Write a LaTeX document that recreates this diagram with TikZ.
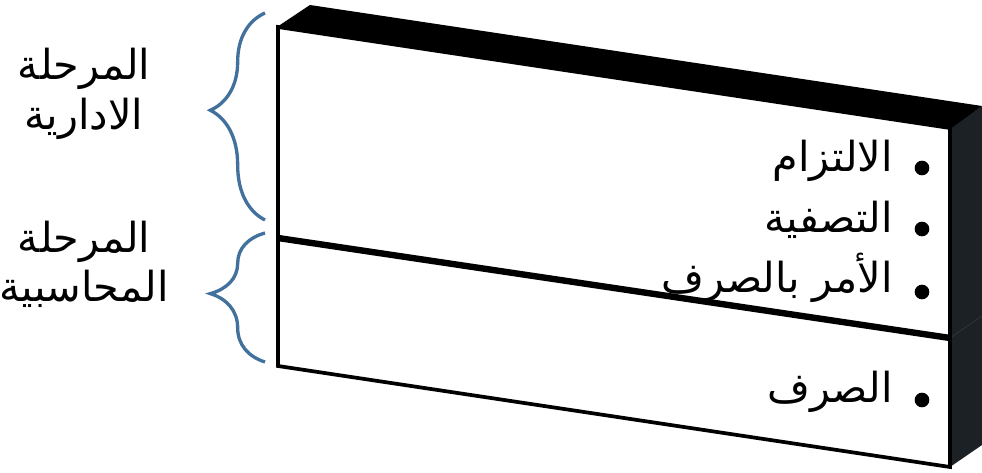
\documentclass[tikz,border=0pt]{standalone}
\usepackage{fontspec}
\newfontfamily\arabicfont[Script=Arabic]{DejaVu Sans}
\TeXXeTstate=1
\usetikzlibrary{decorations.pathreplacing}
\definecolor{bracecol}{HTML}{41719C}
\definecolor{sidecol}{HTML}{1C2125}
\begin{document}
\begin{tikzpicture}[x=0.75pt,y=-0.75pt,line join=miter,
  phase/.style={font=\arabicfont\fontsize{31}{36}\selectfont,anchor=base,inner sep=0pt},
  item/.style={font=\arabicfont\fontsize{31}{36}\selectfont,anchor=base east,inner sep=0pt},
  dot/.style={circle,fill=black,minimum size=11pt,inner sep=0pt},
  bracket/.style={draw=bracecol,line width=2.5pt,decorate,decoration={brace,amplitude=41pt,aspect=0.53}}]
\useasboundingbox (0,0) rectangle (982,473);
\fill[sidecol] (950,128) -- (982,106) -- (982,445) -- (950,467) -- cycle;
\draw[sidecol!70!gray,line width=0.4pt] (950,338) -- (982,316);
\draw[fill=white,line width=2.8pt] (278,27) -- (950,128) -- (950,467) -- (278,366) -- cycle;
\draw[line width=4.8pt] (278,238) -- (950,338);
\fill (277,27) -- (310,5) -- (982,106) -- (950,129) -- cycle;
\coordinate (admtop) at (265,13);
\coordinate (admbot) at (265,220);
\coordinate (acctop) at (265,233);
\coordinate (accbot) at (265,362);
\draw[bracket] (admbot) -- (admtop);
\draw[bracket] (accbot) -- (acctop);
\node[phase] (adm1) at (84,80) {\beginR المرحلة\endR};
\node[phase] (adm2) at (84,130) {\beginR الادارية\endR};
\node[phase] (acc1) at (84,253) {\beginR المرحلة\endR};
\node[phase] (acc2) at (84,302) {\beginR المحاسبية\endR};
\node[dot] (d1) at (922,168) {};
\node[dot] (d2) at (922,229) {};
\node[dot] (d3) at (922,292) {};
\node[dot] (d4) at (922,400) {};
\node[item] (commit) at (893,172) {\beginR الالتزام\endR};
\node[item] (liquid) at (893,233) {\beginR التصفية\endR};
\node[item] (order) at (893,293) {\beginR الأمر بالصرف\endR};
\node[item] (pay) at (893,403) {\beginR الصرف\endR};
\end{tikzpicture}
\end{document}
